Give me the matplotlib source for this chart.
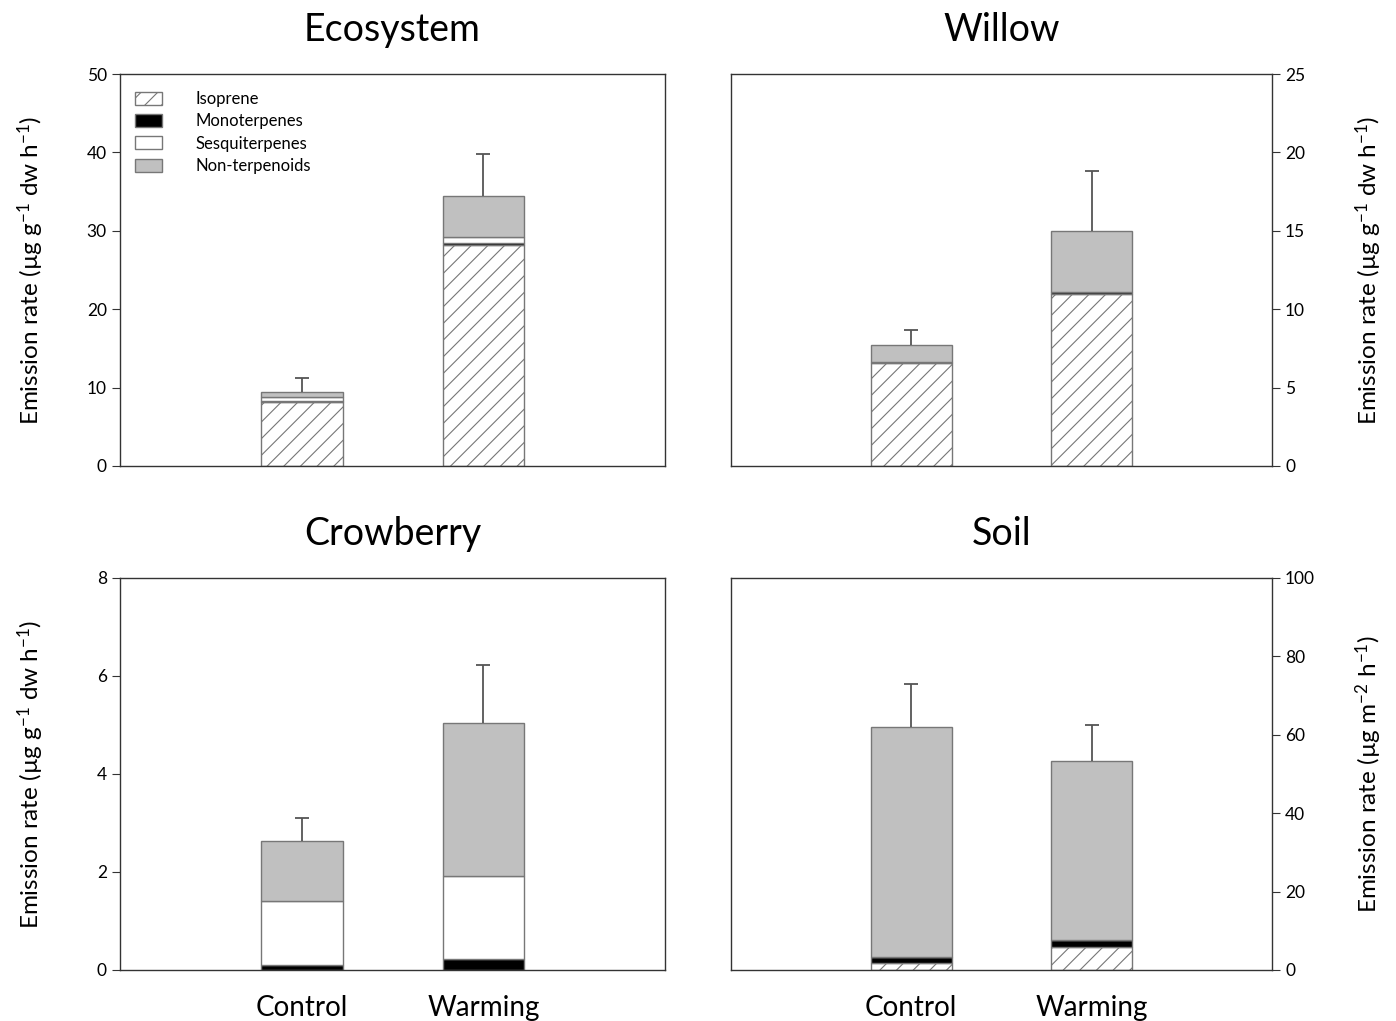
import numpy as np
import matplotlib
matplotlib.use('Agg')
import matplotlib.pyplot as plt
from matplotlib.patches import Patch

plt.rcParams['font.family'] = ['Lato', 'DejaVu Sans']
plt.rcParams['mathtext.fontset'] = 'custom'
plt.rcParams['mathtext.rm'] = 'Lato'
plt.rcParams['mathtext.it'] = 'Lato:italic'
plt.rcParams['hatch.linewidth'] = 0.8

treatments = ['Control', 'Warming']

# stacked emission components per panel (Control, Warming)
eco_iso = [8.16, 28.2]
eco_mono = [0.15, 0.25]
eco_sesq = [0.45, 0.75]
eco_non = [0.72, 5.2]
eco_err = [1.75, 5.4]

willow_iso = [6.55, 11.0]
willow_mono = [0.08, 0.1]
willow_sesq = [0.0, 0.0]
willow_non = [1.1, 3.9]
willow_err = [0.95, 3.8]

crow_iso = [0.0, 0.0]
crow_mono = [0.1, 0.22]
crow_sesq = [1.31, 1.70]
crow_non = [1.22, 3.12]
crow_err = [0.47, 1.18]

soil_iso = [1.86, 5.94]
soil_mono = [1.38, 1.7]
soil_sesq = [0.0, 0.0]
soil_non = [58.8, 45.7]
soil_err = [11.0, 9.2]

ylab_dw = 'Emission rate (µg g$^{-1}$ dw h$^{-1}$)'
ylab_area = 'Emission rate (µg m$^{-2}$ h$^{-1}$)'

edge = '#777777'
styles = [
    dict(facecolor='white', hatch='//', label='Isoprene'),
    dict(facecolor='black', label='Monoterpenes'),
    dict(facecolor='white', label='Sesquiterpenes'),
    dict(facecolor='#c0c0c0', label='Non-terpenoids'),
]


def stackedPanel(ax, title, parts, err, ymax, yticks, ylabel, side, showX):
    x = np.array([1.0, 2.0])
    bottom = np.zeros(2)
    for vals, st in zip(parts, styles):
        vals = np.array(vals)
        ax.bar(x, vals, width=0.45, bottom=bottom, edgecolor=edge,
               linewidth=1.0, facecolor=st['facecolor'], hatch=st.get('hatch'))
        bottom = bottom + vals
    # upper error bar only, cap on top
    top = bottom + np.array(err)
    ax.vlines(x, bottom, top, color='#555555', linewidth=1.3)
    ax.plot(x, top, linestyle='none', marker='_', markersize=10,
            markeredgewidth=1.3, color='#555555')
    ax.set_xlim(0, 3)
    ax.set_ylim(0, ymax)
    ax.set_yticks(yticks)
    ax.set_title(title, fontsize=27, pad=24)
    for s in ax.spines.values():
        s.set_color('#333333')
        s.set_linewidth(1.0)
    ax.tick_params(axis='y', direction='out', length=6, labelsize=12.5,
                   color='#333333')
    ax.tick_params(axis='x', length=0)
    if showX:
        ax.set_xticks(x)
        ax.set_xticklabels(treatments, fontsize=20)
        ax.tick_params(axis='x', pad=18)
    else:
        ax.set_xticks([])
    ax.set_ylabel(ylabel, fontsize=17.5)
    if side == 'right':
        ax.yaxis.tick_right()
        ax.yaxis.set_label_position('right')
        ax.yaxis.set_label_coords(1.150, 0.5)
    else:
        ax.yaxis.set_label_coords(-0.136, 0.5)


fig = plt.figure(figsize=(13.96, 10.21), dpi=100)
axEco = fig.add_axes([0.086, 0.5436, 0.3904, 0.3839])
axWil = fig.add_axes([0.5236, 0.5436, 0.3875, 0.3839])
axCro = fig.add_axes([0.086, 0.0500, 0.3904, 0.3839])
axSoil = fig.add_axes([0.5236, 0.0500, 0.3875, 0.3839])

stackedPanel(axEco, 'Ecosystem', [eco_iso, eco_mono, eco_sesq, eco_non], eco_err,
             50, [0, 10, 20, 30, 40, 50], ylab_dw, 'left', False)
stackedPanel(axWil, 'Willow', [willow_iso, willow_mono, willow_sesq, willow_non], willow_err,
             25, [0, 5, 10, 15, 20, 25], ylab_dw, 'right', False)
stackedPanel(axCro, 'Crowberry', [crow_iso, crow_mono, crow_sesq, crow_non], crow_err,
             8, [0, 2, 4, 6, 8], ylab_dw, 'left', True)
stackedPanel(axSoil, 'Soil', [soil_iso, soil_mono, soil_sesq, soil_non], soil_err,
             100, [0, 20, 40, 60, 80, 100], ylab_area, 'right', True)

handles = [Patch(facecolor=st['facecolor'], edgecolor=edge, hatch=st.get('hatch'),
                 label=st['label']) for st in styles]
axEco.legend(handles=handles, loc='upper left', frameon=False, fontsize=12,
             handlelength=1.6, handleheight=0.8, handletextpad=2.0,
             labelspacing=0.38, bbox_to_anchor=(0.0, 0.995))

fig.savefig('out.png', dpi=100)
